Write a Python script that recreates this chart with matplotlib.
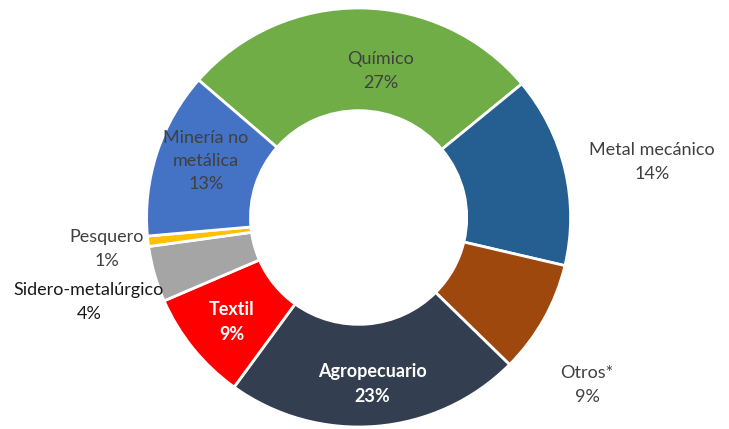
import matplotlib
matplotlib.use("Agg")
import matplotlib.pyplot as plt

# sector shares (%), clockwise from the top-left
sectors = ["Químico", "Metal mecánico", "Otros*", "Agropecuario", "Textil",
           "Sidero-metalúrgico", "Pesquero", "Minería no\nmetálica"]
shares = [27.6, 14.7, 8.7, 22.6, 8.5, 4.3, 0.8, 12.8]
pct_labels = ["27%", "14%", "9%", "23%", "9%", "4%", "1%", "13%"]
colors = ["#70AD47", "#255E91", "#9E480E", "#333F50", "#FF0000",
          "#A5A5A5", "#FFC000", "#4472C4"]

# label placement (pixel centres of the label block) and style
label_pos = [(381, 71), (652, 162), (587, 385), (372, 384), (232, 322),
             (89, 302), (107, 249), (206, 161)]
label_color = ["#404040", "#404040", "#404040", "white", "white",
               "#1a1a1a", "#404040", "#404040"]
label_bold = [False, False, False, True, True, False, False, False]

W, H = 729, 429
cx, cy = 358.6, 217.5
Rx, Ry = 212.0, 209.5

plt.rcParams["font.family"] = ["Lato", "DejaVu Sans"]
fig = plt.figure(figsize=(W / 100, H / 100), dpi=100)
ax = fig.add_axes([0, 0, 1, 1])

ax.pie(shares, colors=colors, startangle=139, counterclock=False,
       radius=1.0, wedgeprops=dict(width=0.49, edgecolor="white", linewidth=2))

ax.set_aspect("auto")
ax.set_xlim(-cx / Rx, (W - cx) / Rx)
ax.set_ylim(-(H - cy) / Ry, cy / Ry)
ax.axis("off")

for name, pct, (px, py), c, b in zip(sectors, pct_labels, label_pos, label_color, label_bold):
    x = (px - cx) / Rx
    y = (cy - py) / Ry
    ax.text(x, y, f"{name}\n{pct}", ha="center", va="center",
            fontsize=13, color=c, fontweight="bold" if b else "normal",
            linespacing=1.55)

fig.savefig("out.png", dpi=100)
